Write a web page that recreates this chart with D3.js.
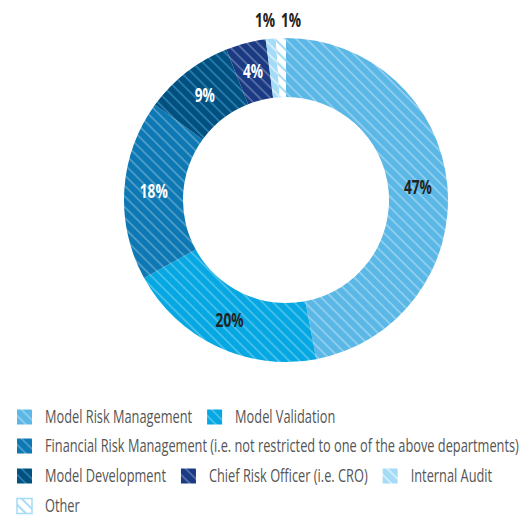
<!DOCTYPE html>
<html lang="en">
<head>
  <meta charset="UTF-8">
  <title>Department donut</title>
  <script src="https://d3js.org/d3.v7.min.js"></script>
  <style>
    body { margin: 0; background: #fff; }
    svg { display: block; }
    .lbl { font-family: "Open Sans", sans-serif; font-weight: bold; font-size: 19px; }
    .leg { font-family: "Open Sans", sans-serif; font-weight: 400; font-size: 18px; fill: #555; }
  </style>
</head>
<body>
  <div id="viz"></div>
  <script>
    const width = 526, height = 517;

    // Data
    const categories = [
      'Model Risk Management',
      'Model Validation',
      'Financial Risk Management (i.e. not restricted to one of the above departments)',
      'Model Development',
      'Chief Risk Officer (i.e. CRO)',
      'Internal Audit',
      'Other'
    ];
    const shares = [47, 20, 18, 9, 4, 1, 1];
    const fills = ['#5bb8e6', '#05a8e2', '#0d78b3', '#02507f', '#1b3a84', '#a4dbf6', '#ffffff'];
    const stripeColors = ['rgba(255,255,255,0.35)', 'rgba(255,255,255,0.3)', 'rgba(255,255,255,0.3)',
                          'rgba(80,170,220,0.55)', 'rgba(255,255,255,0.3)', 'rgba(255,255,255,0.6)', '#a4dbf6'];
    const labelColors = ['#222', '#222', '#fff', '#fff', '#fff', null, null];

    const data = categories.map((c, i) => ({ name: c, value: shares[i], i }));

    const svg = d3.select('#viz').append('svg')
      .attr('width', width).attr('height', height);

    // stripe patterns
    const defs = svg.append('defs');
    data.forEach(d => {
      const p = defs.append('pattern')
        .attr('id', 'pat' + d.i)
        .attr('patternUnits', 'userSpaceOnUse')
        .attr('width', 7.5).attr('height', 7.5)
        .attr('patternTransform', 'rotate(-45)');
      p.append('rect').attr('width', 7.5).attr('height', 7.5).attr('fill', fills[d.i]);
      p.append('line').attr('x1', 1).attr('y1', 0).attr('x2', 1).attr('y2', 7.5)
        .attr('stroke', stripeColors[d.i]).attr('stroke-width', d.i === 6 ? 2 : 1.6);
    });

    const cx = 286, cy = 200, outerR = 162, innerR = 103;

    const pie = d3.pie().value(d => d.value).sort(null);
    const arc = d3.arc().innerRadius(innerR).outerRadius(outerR);
    const arcs = pie(data);

    const g = svg.append('g').attr('transform', `translate(${cx},${cy})`);

    g.selectAll('path')
      .data(arcs)
      .enter().append('path')
      .attr('d', arc)
      .attr('fill', d => `url(#pat${d.data.i})`);

    // condensed look: squeeze text horizontally
    const lblSx = 0.72;

    g.selectAll('text.lbl')
      .data(arcs.filter(d => labelColors[d.data.i]))
      .enter().append('text')
      .attr('class', 'lbl')
      .attr('transform', d => `translate(${arc.centroid(d)}) scale(${lblSx},1)`)
      .attr('text-anchor', 'middle')
      .attr('dy', '0.35em')
      .attr('fill', d => labelColors[d.data.i])
      .text(d => d.data.value + '%');

    // small slices labelled above the ring
    const small = arcs.filter(d => !labelColors[d.data.i]);
    small.forEach((d, k) => {
      g.append('text')
        .attr('class', 'lbl')
        .attr('transform', `translate(${-21 + k * 26},${-outerR - 18}) scale(${lblSx},1)`)
        .attr('text-anchor', 'middle')
        .attr('dy', '0.35em')
        .attr('fill', '#222')
        .text(d.data.value + '%');
    });

    // legend, flowed in rows
    const leg = svg.append('g');
    const rowY = [417, 446, 476, 506];
    const probe = leg.append('text').attr('class', 'leg').text(categories[2]);
    const legSx = 474 / probe.node().getComputedTextLength();
    probe.remove();

    let row = 0, x = 17;
    data.forEach(d => {
      const item = leg.append('g');
      const t = item.append('text').attr('class', 'leg')
        .attr('transform', `translate(28,0) scale(${legSx},1)`)
        .attr('dy', '0.35em').text(d.name);
      const w = 28 + t.node().getComputedTextLength() * legSx;
      if (x > 17 && x + w > width) { row++; x = 17; }
      item.attr('transform', `translate(${x},${rowY[row]})`);
      item.insert('rect', 'text')
        .attr('x', 0).attr('y', -7.5).attr('width', 15).attr('height', 15)
        .attr('fill', `url(#pat${d.i})`)
        .attr('stroke', d.i === 6 ? '#a4dbf6' : 'none')
        .attr('stroke-width', 1.5);
      x += w + 15;
    });
  </script>
</body>
</html>
